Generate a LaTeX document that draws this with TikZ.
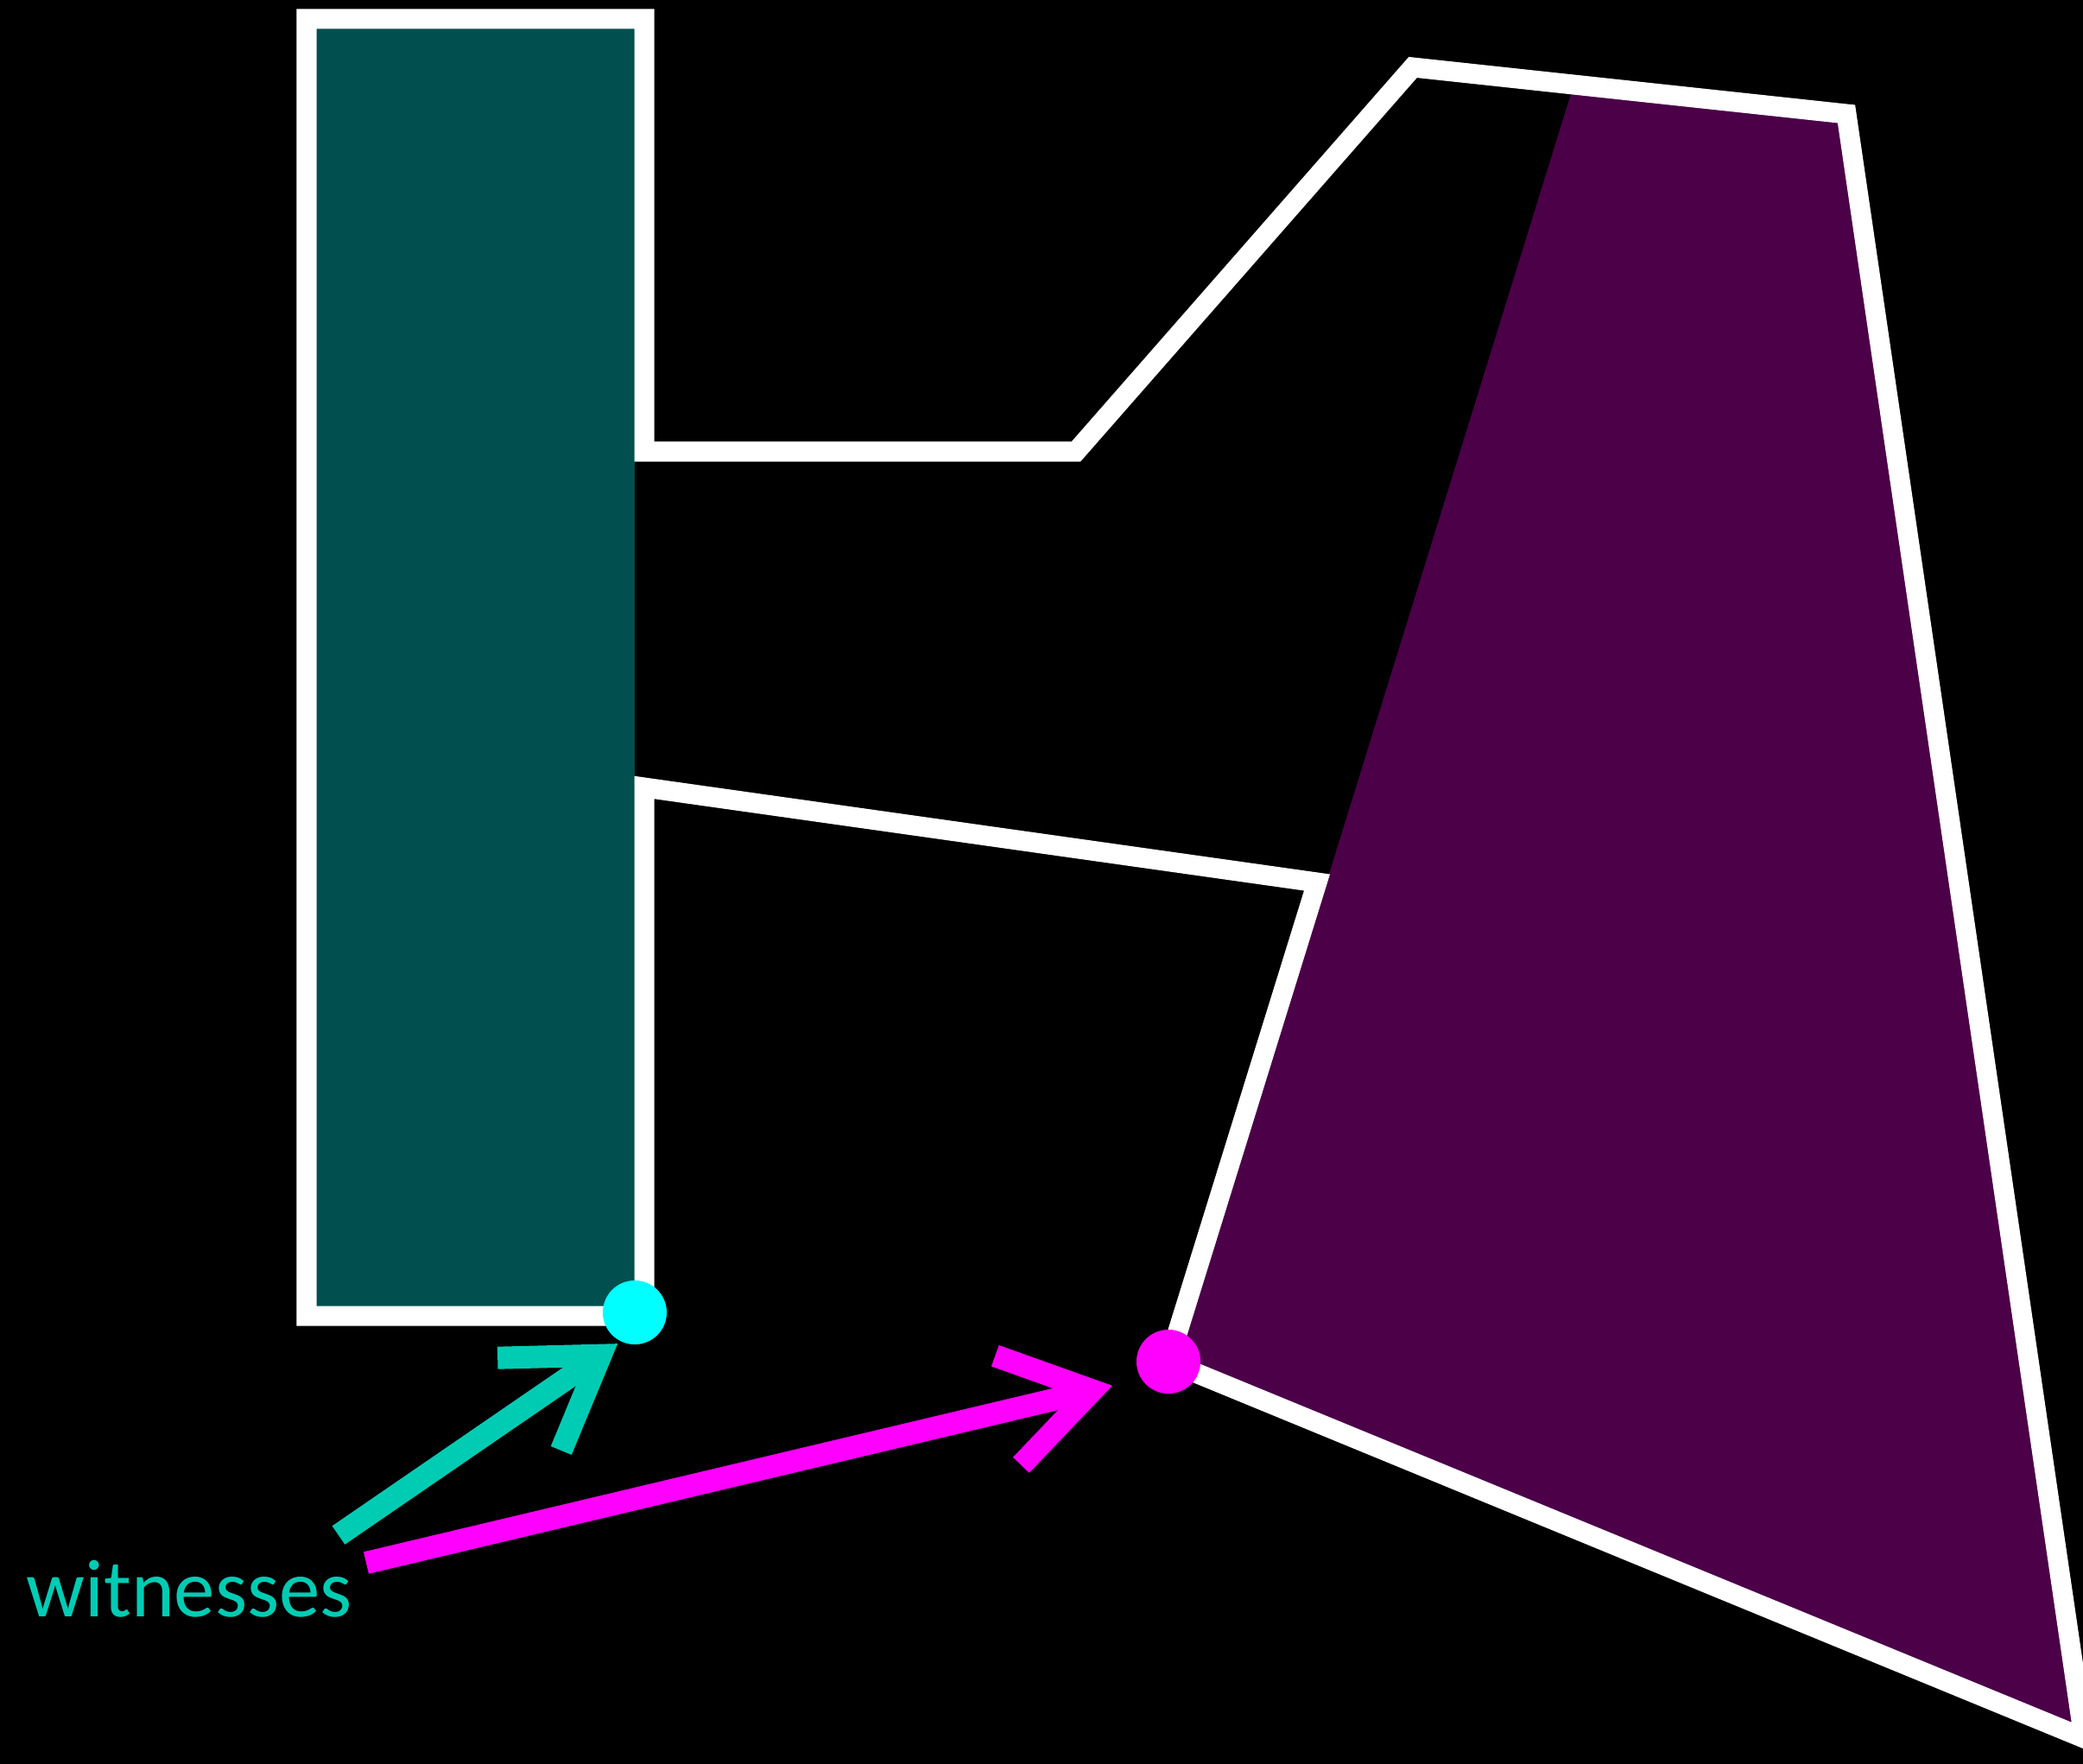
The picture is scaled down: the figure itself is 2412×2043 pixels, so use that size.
\documentclass[tikz,border=0pt]{standalone}
\usepackage{fontspec}
\setmainfont{Carlito}
\usetikzlibrary{arrows.meta}
\definecolor{wallteal}{HTML}{024F4F}
\definecolor{wallpurple}{HTML}{4B0048}
\definecolor{chalkteal}{HTML}{00CCB4}
\definecolor{dotcyan}{HTML}{00FFFF}
\definecolor{dotmagenta}{HTML}{FF00FF}
\tikzset{
  outline/.style={draw=white, line width=0.23cm, line join=miter},
  wit/.style    ={circle, inner sep=0pt, minimum size=0.74cm},
  chalk/.style  ={line width=0.26cm, -{Straight Barb[length=1cm, width=1.3cm]}},
}

\begin{document}
\begin{tikzpicture}[x=0.01cm, y=-0.01cm]
  \fill[black] (0,0) rectangle (2412,2043);
  \useasboundingbox (0,0) rectangle (2412,2043);
  % regions
  \fill[wallteal] (355,22) rectangle (735,1524);
  \fill[wallpurple] (1823,96) -- (2138,132) -- (2413,2013) -- (1363,1580) -- cycle;
  % boundary
  \draw[outline] (355,22) -- (746,22) -- (746,523) -- (1246,523) -- (1636,78)
    -- (2138,132) -- (2413,2013) -- (1353,1577) -- (1525,1022) -- (746,912)
    -- (746,1524) -- (355,1524) -- cycle;
  % witness points
  \node[wit, fill=dotcyan]    (cyanwit) at (735,1520) {};
  \node[wit, fill=dotmagenta] (magwit)  at (1353,1577) {};
  \node[anchor=base west, inner sep=0pt, text=chalkteal,
        font=\fontsize{27}{32}\selectfont] (lbl) at (30,1872) {witnesses};
  \coordinate (tealtail) at (392,1778);
  \coordinate (magtail)  at (424,1810);
  \draw[chalk, chalkteal, shorten >=0.04cm] (tealtail) -- (cyanwit.244);
  \draw[chalk, dotmagenta, shorten >=0.34cm] (magtail) -- (magwit.212);
\end{tikzpicture}
\end{document}
